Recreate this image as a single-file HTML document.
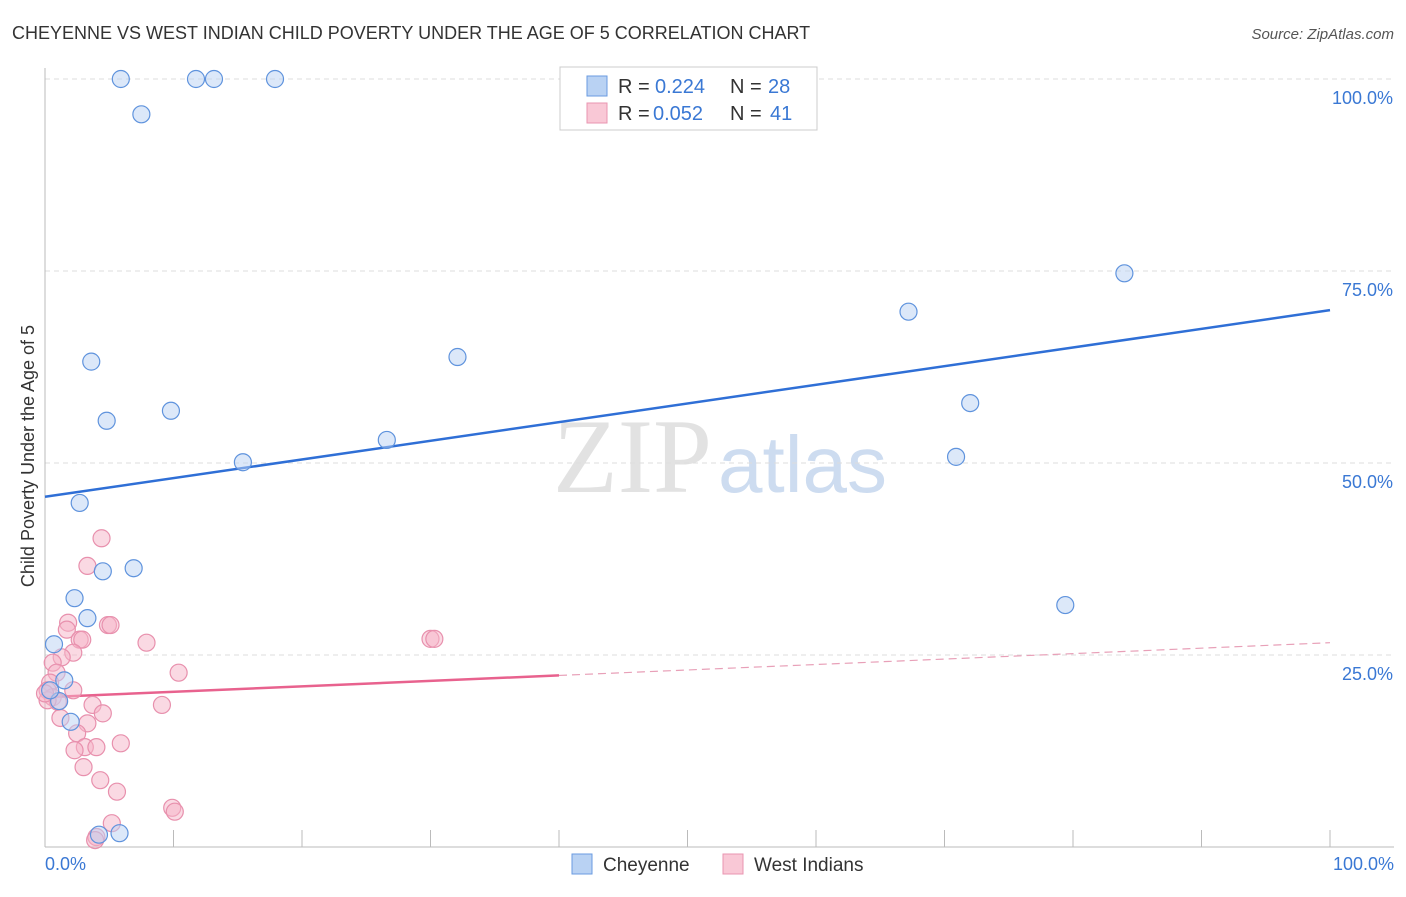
<!DOCTYPE html>
<html><head><meta charset="utf-8"><style>
body{margin:0;background:#fff;font-family:"Liberation Sans",sans-serif;}
svg text{font-family:"Liberation Sans",sans-serif;}
</style></head><body>
<svg id="chart" width="1406" height="892">
<text x="12" y="39" font-size="18" fill="#333">CHEYENNE VS WEST INDIAN CHILD POVERTY UNDER THE AGE OF 5 CORRELATION CHART</text>
<text x="1394" y="39" font-size="15" fill="#555" text-anchor="end" font-style="italic">Source: ZipAtlas.com</text>
<text x="553" y="492" font-size="106" fill="#e2e2e2" style="font-family:'Liberation Serif',serif">ZIP</text>
<text x="718" y="492" font-size="80" fill="#cddcf0">atlas</text>
<g id="grid"></g><g id="axes"></g><g id="lines"></g><g id="pts"></g>
<text transform="translate(34,456) rotate(-90)" font-size="18" fill="#333" text-anchor="middle">Child Poverty Under the Age of 5</text>
<g>
<rect x="560" y="67" width="257" height="63" fill="#fff" stroke="#ccc"/>
<rect x="587" y="76" width="20" height="20" fill="#b9d2f3" stroke="#6a9be0"/>
<rect x="587" y="103" width="20" height="20" fill="#f9c8d6" stroke="#e995b0"/>
<text y="93" font-size="20" fill="#333"><tspan x="618">R =</tspan><tspan x="655" fill="#3a78d4">0.224</tspan><tspan x="730">N =</tspan><tspan x="768" fill="#3a78d4">28</tspan></text>
<text y="120" font-size="20" fill="#333"><tspan x="618">R =</tspan><tspan x="653" fill="#3a78d4">0.052</tspan><tspan x="730">N =</tspan><tspan x="770" fill="#3a78d4">41</tspan></text>
</g>
<g>
<rect x="572" y="854" width="20" height="20" fill="#b9d2f3" stroke="#6a9be0"/>
<text x="603" y="871" font-size="19" fill="#333">Cheyenne</text>
<rect x="723" y="854" width="20" height="20" fill="#f9c8d6" stroke="#e995b0"/>
<text x="754" y="871" font-size="19" fill="#333">West Indians</text>
</g>
</svg>
<script>
const blueX=[5.9,11.75,13.15,17.9,7.5,3.6,4.8,9.8,15.4,26.6,32.1,2.7,4.5,6.9,2.3,3.3,0.7,1.5,1.1,2.0,4.2,5.8,67.2,72.0,70.9,84.0,79.4,0.4];
const blueY=[100,100,100,100,95.4,63.2,55.5,56.8,50.1,53.0,63.8,44.8,35.9,36.3,32.4,29.8,26.4,21.7,19.0,16.3,1.6,1.8,69.7,57.8,50.8,74.7,31.5,20.4];
const pinkX=[4.4,3.3,1.8,1.7,4.9,5.1,2.7,2.9,7.9,2.2,1.3,10.4,0.6,0.9,0.4,2.2,0.2,0.6,1.0,9.1,3.7,4.5,1.2,3.3,2.5,5.9,3.1,4.0,2.3,3.0,4.3,5.6,5.2,9.9,10.1,4.0,3.9,30.0,30.3,0.2,0];
const pinkY=[40.2,36.6,29.2,28.3,28.9,28.9,27.0,27.0,26.6,25.3,24.7,22.7,24.0,22.7,21.4,20.4,20.4,19.5,18.9,18.5,18.5,17.4,16.8,16.1,14.8,13.5,13.0,13.0,12.6,10.4,8.7,7.2,3.1,5.1,4.6,1.3,0.9,27.1,27.1,19.1,20];
const blueTrend=[45.6,69.9];
const pinkTrend=[19.5,26.6];
const pinkSolidEnd=40;
const yTicks=[25,50,75,100];
const xTickLabels=["0.0%","100.0%"];
const NS="http://www.w3.org/2000/svg";
const sx=v=>45+v*12.85, sy=v=>847-v*7.68;
function mk(p,t,a){const e=document.createElementNS(NS,t);for(const k in a)e.setAttribute(k,a[k]);document.getElementById(p).appendChild(e);return e;}
yTicks.forEach(t=>{
 const l=mk('grid','line',{x1:45,x2:1394,y1:sy(t),y2:sy(t),stroke:'#ddd','stroke-dasharray':'5,4'});
 
 
 const tx=mk('grid','text',{x:1393,y:sy(t)+25,'font-size':18,fill:'#3a78d4','text-anchor':'end'});
 tx.textContent=t.toFixed(1)+'%';
 
 
});
mk('axes','line',{x1:45,x2:45,y1:68,y2:847,stroke:'#bbb'});
mk('axes','line',{x1:45,x2:1394,y1:847,y2:847,stroke:'#bbb'});
for(let i=0;i<=10;i++){const x=sx(i*10);mk('axes','line',{x1:x,x2:x,y1:830,y2:847,stroke:'#bbb'});}
const t0=mk('axes','text',{x:45,y:870,'font-size':18,fill:'#3a78d4'});t0.textContent=xTickLabels[0];


const t1=mk('axes','text',{x:1394,y:870,'font-size':18,fill:'#3a78d4','text-anchor':'end'});t1.textContent=xTickLabels[1];


function drawPts(X,Y,fill,stroke,name){X.forEach((x,i)=>{const c=mk('pts','circle',{cx:sx(x),cy:sy(Y[i]),r:8.5,fill:fill,'fill-opacity':0.5,stroke:stroke,'stroke-width':1.2});
 
 });}
drawPts(pinkX,pinkY,'#f6b4c8','#e890ad','west-indians-point');
drawPts(blueX,blueY,'#b9d2f3','#5f93dd','cheyenne-point');
const bl=mk('lines','line',{x1:sx(0),y1:sy(blueTrend[0]),x2:sx(100),y2:sy(blueTrend[1]),stroke:'#2f6fd6','stroke-width':2.5});


const pm=pinkTrend[0]+(pinkTrend[1]-pinkTrend[0])*pinkSolidEnd/100;
const pl=mk('lines','line',{x1:sx(0),y1:sy(pinkTrend[0]),x2:sx(pinkSolidEnd),y2:sy(pm),stroke:'#e8628e','stroke-width':2.5});


const pd=mk('lines','line',{x1:sx(pinkSolidEnd),y1:sy(pm),x2:sx(100),y2:sy(pinkTrend[1]),stroke:'#e8a0b8','stroke-width':1.2,'stroke-dasharray':'8,5'});


</script>
</body></html>
